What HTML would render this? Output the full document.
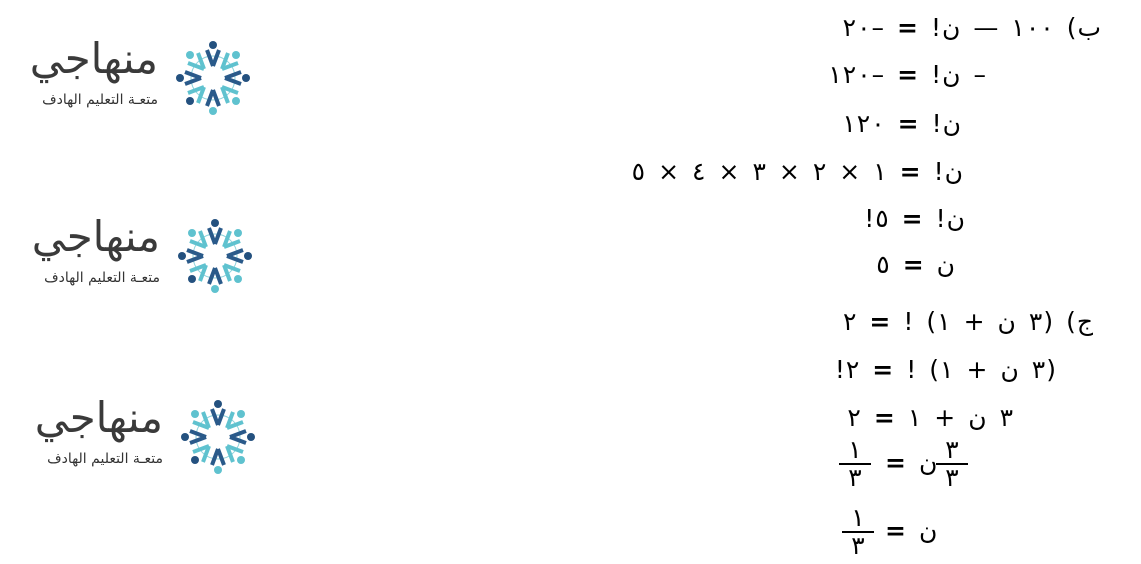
<!DOCTYPE html>
<html><head><meta charset="utf-8"><style>
body{margin:0;width:1141px;height:564px;background:#fff;position:relative;overflow:hidden;font-family:"DejaVu Sans","Noto Sans CJK SC",sans-serif;}
.l{position:absolute;font-size:25px;color:#000;line-height:30px;display:flex;flex-direction:row;direction:ltr;gap:13px;white-space:nowrap;}
.g{display:flex;flex-direction:row;direction:ltr;gap:1px;}
.g span,.l>span{display:block;direction:ltr;unicode-bidi:isolate;}
.b{font-weight:bold}
.fr{position:absolute;font-size:25px;text-align:center;width:32px;line-height:26px;}
.fr .bar{border-top:2px solid #000;}
.logo{position:absolute;width:230px;height:80px;}
.lt{position:absolute;font-family:"DejaVu Sans",sans-serif;color:#333;direction:rtl;white-space:nowrap}
</style></head><body>

<div class="l" style="right:40px;top:13px"><div class="g"><span>٢</span><span>٠</span><span>–</span></div><span class="b">=</span><div class="g"><span>!</span><span>ن</span></div><span>—</span><div class="g"><span>١</span><span>٠</span><span>٠</span></div><div class="g"><span>(</span><span>ب</span></div></div>
<div class="l" style="right:155px;top:60px"><div class="g"><span>١</span><span>٢</span><span>٠</span><span>–</span></div><span class="b">=</span><div class="g"><span>!</span><span>ن</span></div><span>–</span></div>
<div class="l" style="right:180px;top:109px"><div class="g"><span>١</span><span>٢</span><span>٠</span></div><span class="b">=</span><div class="g"><span>!</span><span>ن</span></div></div>
<div class="l" style="right:178px;top:157px"><span>٥</span><span>×</span><span>٤</span><span>×</span><span>٣</span><span>×</span><span>٢</span><span>×</span><span>١</span><span class="b">=</span><div class="g"><span>!</span><span>ن</span></div></div>
<div class="l" style="right:176px;top:204px"><div class="g"><span>!</span><span>٥</span></div><span class="b">=</span><div class="g"><span>!</span><span>ن</span></div></div>
<div class="l" style="right:186px;top:250px"><span>٥</span><span class="b">=</span><span>ن</span></div>
<div class="l" style="right:48px;top:307px"><span>٢</span><span class="b">=</span><span>!</span><div class="g"><span>(</span><span>١</span></div><span>+</span><span>ن</span><div class="g"><span>٣</span><span>)</span></div><div class="g"><span>(</span><span>ج</span></div></div>
<div class="l" style="right:85px;top:355px"><div class="g"><span>!</span><span>٢</span></div><span class="b">=</span><span>!</span><div class="g"><span>(</span><span>١</span></div><span>+</span><span>ن</span><div class="g"><span>٣</span><span>)</span></div></div>
<div class="l" style="right:128px;top:403px"><span>٢</span><span class="b">=</span><span>١</span><span>+</span><span>ن</span><span>٣</span></div>

<div class="fr" style="left:839px;top:437px">١<div class="bar">٣</div></div>
<div class="l" style="left:885px;top:448px"><span class="b">=</span><span>ن</span></div>
<div class="fr" style="left:936px;top:437px">٣<div class="bar">٣</div></div>

<div class="fr" style="left:842px;top:505px">١<div class="bar">٣</div></div>
<div class="l" style="left:885px;top:516px"><span class="b">=</span><span>ن</span></div>

<div class="logo" style="left:28px;top:38px">
 <svg width="80" height="80" style="position:absolute;left:145px;top:0" viewBox="-40 -40 80 80">
   <circle r="22" fill="none" stroke="#8fd3dc" stroke-width="1"/>
   <circle cx="0" cy="-33" r="4" fill="#24517f"/><circle cx="23" cy="-23" r="4" fill="#5fc2cf"/>
   <circle cx="33" cy="0" r="4" fill="#24517f"/><circle cx="23" cy="23" r="4" fill="#5fc2cf"/>
   <circle cx="0" cy="33" r="4" fill="#5fc2cf"/><circle cx="-23" cy="23" r="4" fill="#24517f"/>
   <circle cx="-33" cy="0" r="4" fill="#24517f"/><circle cx="-23" cy="-23" r="4" fill="#5fc2cf"/>
   <path d="M0-12L-6-28M0-12L6-28M12 0L28-6M12 0L28 6M0 12L-6 28M0 12L6 28M-12 0L-28-6M-12 0L-28 6" stroke="#2a5a8a" stroke-width="4"/>
   <path d="M9-9L15-25M9-9L25-15M9 9L25 15M9 9L15 25M-9 9L-15 25M-9 9L-25 15M-9-9L-25-15M-9-9L-15-25" stroke="#5fc2cf" stroke-width="4"/>
 </svg>
 <div class="lt" style="right:100px;top:-4px;font-size:42px;color:#3a3a3a">منهاجي</div>
 <div class="lt" style="right:100px;top:54px;font-size:14px">متعـة التعليم الهادف</div>
</div>
<div class="logo" style="left:30px;top:216px">
 <svg width="80" height="80" style="position:absolute;left:145px;top:0" viewBox="-40 -40 80 80">
   <circle r="22" fill="none" stroke="#8fd3dc" stroke-width="1"/>
   <circle cx="0" cy="-33" r="4" fill="#24517f"/><circle cx="23" cy="-23" r="4" fill="#5fc2cf"/>
   <circle cx="33" cy="0" r="4" fill="#24517f"/><circle cx="23" cy="23" r="4" fill="#5fc2cf"/>
   <circle cx="0" cy="33" r="4" fill="#5fc2cf"/><circle cx="-23" cy="23" r="4" fill="#24517f"/>
   <circle cx="-33" cy="0" r="4" fill="#24517f"/><circle cx="-23" cy="-23" r="4" fill="#5fc2cf"/>
   <path d="M0-12L-6-28M0-12L6-28M12 0L28-6M12 0L28 6M0 12L-6 28M0 12L6 28M-12 0L-28-6M-12 0L-28 6" stroke="#2a5a8a" stroke-width="4"/>
   <path d="M9-9L15-25M9-9L25-15M9 9L25 15M9 9L15 25M-9 9L-15 25M-9 9L-25 15M-9-9L-25-15M-9-9L-15-25" stroke="#5fc2cf" stroke-width="4"/>
 </svg>
 <div class="lt" style="right:100px;top:-4px;font-size:42px;color:#3a3a3a">منهاجي</div>
 <div class="lt" style="right:100px;top:54px;font-size:14px">متعـة التعليم الهادف</div>
</div>
<div class="logo" style="left:33px;top:397px">
 <svg width="80" height="80" style="position:absolute;left:145px;top:0" viewBox="-40 -40 80 80">
   <circle r="22" fill="none" stroke="#8fd3dc" stroke-width="1"/>
   <circle cx="0" cy="-33" r="4" fill="#24517f"/><circle cx="23" cy="-23" r="4" fill="#5fc2cf"/>
   <circle cx="33" cy="0" r="4" fill="#24517f"/><circle cx="23" cy="23" r="4" fill="#5fc2cf"/>
   <circle cx="0" cy="33" r="4" fill="#5fc2cf"/><circle cx="-23" cy="23" r="4" fill="#24517f"/>
   <circle cx="-33" cy="0" r="4" fill="#24517f"/><circle cx="-23" cy="-23" r="4" fill="#5fc2cf"/>
   <path d="M0-12L-6-28M0-12L6-28M12 0L28-6M12 0L28 6M0 12L-6 28M0 12L6 28M-12 0L-28-6M-12 0L-28 6" stroke="#2a5a8a" stroke-width="4"/>
   <path d="M9-9L15-25M9-9L25-15M9 9L25 15M9 9L15 25M-9 9L-15 25M-9 9L-25 15M-9-9L-25-15M-9-9L-15-25" stroke="#5fc2cf" stroke-width="4"/>
 </svg>
 <div class="lt" style="right:100px;top:-4px;font-size:42px;color:#3a3a3a">منهاجي</div>
 <div class="lt" style="right:100px;top:54px;font-size:14px">متعـة التعليم الهادف</div>
</div>
</body></html>
